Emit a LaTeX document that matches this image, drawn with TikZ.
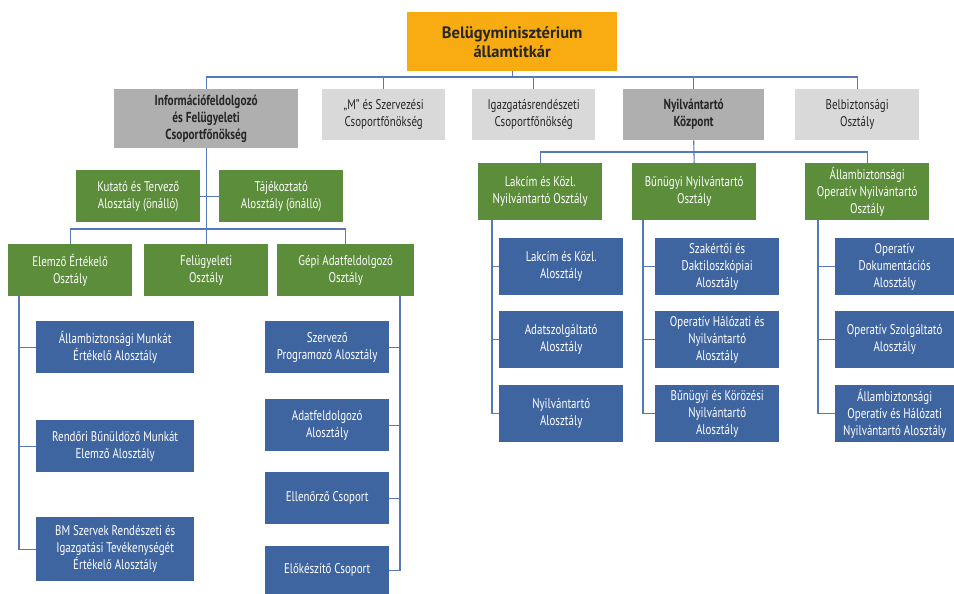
\documentclass[tikz,border=0pt]{standalone}
\usepackage{fontspec}
\setmainfont[FakeStretch=0.78]{PT Sans}
\newfontfamily\topfont{PT Sans}
\usetikzlibrary{calc}
\definecolor{cOrange}{HTML}{F8AC12}
\definecolor{cGray}{HTML}{AFAFAF}
\definecolor{cLight}{HTML}{D9D9D9}
\definecolor{cGreen}{HTML}{5B8D3A}
\definecolor{cBlue}{HTML}{3F65A1}
\definecolor{cLine}{HTML}{5479B8}
\definecolor{cText}{HTML}{262626}
\tikzset{
  box/.style={anchor=north west, inner sep=1pt, align=center, font=\fontsize{14}{17}\selectfont},
  orangebox/.style={box, fill=cOrange, text=cText, font=\topfont\bfseries\fontsize{16.5}{19}\selectfont},
  graybox/.style={box, fill=cGray, text=cText, font=\bfseries\fontsize{14.5}{17}\selectfont},
  lightbox/.style={box, fill=cLight, text=cText},
  greenbox/.style={box, fill=cGreen, text=white},
  bluebox/.style={box, fill=cBlue, text=white},
  conn/.style={draw=cLine, line width=1.1pt},
}
\begin{document}
\begin{tikzpicture}[x=1pt,y=-1pt]
\useasboundingbox (0,0) rectangle (954,594);
% level 1
\node[orangebox, minimum width=210pt, minimum height=59pt] (top) at (407,12) {Belügyminisztérium\\államtitkár};
% level 2
\node[graybox, minimum width=184pt, minimum height=59pt] (info) at (114,89) {Információfeldolgozó\\és Felügyeleti\\Csoportfőnökség};
\node[lightbox, minimum width=123pt, minimum height=51pt] (m) at (322,89) {„M” és Szervezési\\Csoportfőnökség};
\node[lightbox, minimum width=123pt, minimum height=51pt] (igaz) at (472,89) {Igazgatásrendészeti\\Csoportfőnökség};
\node[graybox, minimum width=141pt, minimum height=51pt] (nyk) at (623,89) {Nyilvántartó\\Központ};
\node[lightbox, minimum width=124pt, minimum height=51pt] (belb) at (795,89) {Belbiztonsági\\Osztály};
% left branch
\node[greenbox, minimum width=124pt, minimum height=52pt] (kut) at (76,170) {Kutató és Tervező\\Alosztály (önálló)};
\node[greenbox, minimum width=124pt, minimum height=52pt] (taj) at (219,170) {Tájékoztató\\Alosztály (önálló)};
\node[greenbox, minimum width=124pt, minimum height=52pt] (elemzo) at (8,244) {Elemző Értékelő\\Osztály};
\node[greenbox, minimum width=124pt, minimum height=52pt] (felu) at (144,244) {Felügyeleti\\Osztály};
\node[greenbox, minimum width=137pt, minimum height=52pt] (gepi) at (277,244) {Gépi Adatfeldolgozó\\Osztály};
\node[bluebox, minimum width=158pt, minimum height=52pt] (a1) at (36,321) {Állambiztonsági Munkát\\Értékelő Alosztály};
\node[bluebox, minimum width=158pt, minimum height=52pt] (a2) at (36,420) {Rendőri Bűnüldöző Munkát\\Elemző Alosztály};
\node[bluebox, minimum width=158pt, minimum height=64pt] (a3) at (36,517) {BM Szervek Rendészeti és\\Igazgatási Tevékenységét\\Értékelő Alosztály};
\node[bluebox, minimum width=124pt, minimum height=52pt] (g1) at (265,321) {Szervező\\Programozó Alosztály};
\node[bluebox, minimum width=124pt, minimum height=52pt] (g2) at (265,399) {Adatfeldolgozó\\Alosztály};
\node[bluebox, minimum width=124pt, minimum height=52pt] (g3) at (265,472) {Ellenőrző Csoport};
\node[bluebox, minimum width=124pt, minimum height=48pt] (g4) at (265,546) {Előkészítő Csoport};
% right branch
\node[greenbox, minimum width=124pt, minimum height=57pt] (lak) at (478,163) {Lakcím és Közl.\\Nyilvántartó Osztály};
\node[greenbox, minimum width=124pt, minimum height=57pt] (bun) at (632,163) {Bűnügyi Nyilvántartó\\Osztály};
\node[greenbox, minimum width=124pt, minimum height=57pt] (ao) at (805,163) {Állambiztonsági\\Operatív Nyilvántartó\\Osztály};
\node[bluebox, minimum width=124pt, minimum height=57pt] (l1) at (499,238) {Lakcím és Közl.\\Alosztály};
\node[bluebox, minimum width=124pt, minimum height=57pt] (l2) at (499,311) {Adatszolgáltató\\Alosztály};
\node[bluebox, minimum width=124pt, minimum height=57pt] (l3) at (499,385) {Nyilvántartó\\Alosztály};
\node[bluebox, minimum width=124pt, minimum height=57pt] (b1) at (655,238) {Szakértői és\\Daktiloszkópiai\\Alosztály};
\node[bluebox, minimum width=124pt, minimum height=57pt] (b2) at (655,311) {Operatív Hálózati és\\Nyilvántartó\\Alosztály};
\node[bluebox, minimum width=124pt, minimum height=57pt] (b3) at (655,385) {Bűnügyi és Körözési\\Nyilvántartó\\Alosztály};
\node[bluebox, minimum width=119pt, minimum height=57pt] (o1) at (835,238) {Operatív\\Dokumentációs\\Alosztály};
\node[bluebox, minimum width=119pt, minimum height=57pt] (o2) at (835,311) {Operatív Szolgáltató\\Alosztály};
\node[bluebox, minimum width=119pt, minimum height=57pt] (o3) at (835,385) {Állambiztonsági\\Operatív és Hálózati\\Nyilvántartó Alosztály};
% connectors
\coordinate (bar1) at (0,77);
\draw[conn] (top.south) -- (top.south |- bar1);
\draw[conn] (info.north) -- (info.north |- bar1) -- (belb.north |- bar1) -- (belb.north);
\foreach \n in {m,igaz,nyk} \draw[conn] (\n.north) -- (\n.north |- bar1);
% left
\coordinate (bar2) at (0,229);
\draw[conn] (info.south) -- (felu.north);
\draw[conn] (kut.east) -- (taj.west);
\draw[conn] (elemzo.north) -- (elemzo.north |- bar2) -- (gepi.north |- bar2) -- (gepi.north);
\coordinate (el) at (19,296);
\draw[conn] (el) |- (a3.west);
\foreach \n in {a1,a2} \draw[conn] (el |- \n.west) -- (\n.west);
\coordinate (ge) at (400,296);
\draw[conn] (ge) |- (g4.east);
\foreach \n in {g1,g2,g3} \draw[conn] (ge |- \n.east) -- (\n.east);
% right
\coordinate (bar3) at (0,152);
\draw[conn] (nyk.south) -- (bun.north);
\draw[conn] (lak.north) -- (lak.north |- bar3) -- (ao.north |- bar3) -- (ao.north);
\coordinate (lk) at (492,220);
\draw[conn] (lk) |- (l3.west);
\foreach \n in {l1,l2} \draw[conn] (lk |- \n.west) -- (\n.west);
\coordinate (bk) at (643,220);
\draw[conn] (bk) |- (b3.west);
\foreach \n in {b1,b2} \draw[conn] (bk |- \n.west) -- (\n.west);
\coordinate (ok) at (818,220);
\draw[conn] (ok) |- (o3.west);
\foreach \n in {o1,o2} \draw[conn] (ok |- \n.west) -- (\n.west);
\end{tikzpicture}
\end{document}
